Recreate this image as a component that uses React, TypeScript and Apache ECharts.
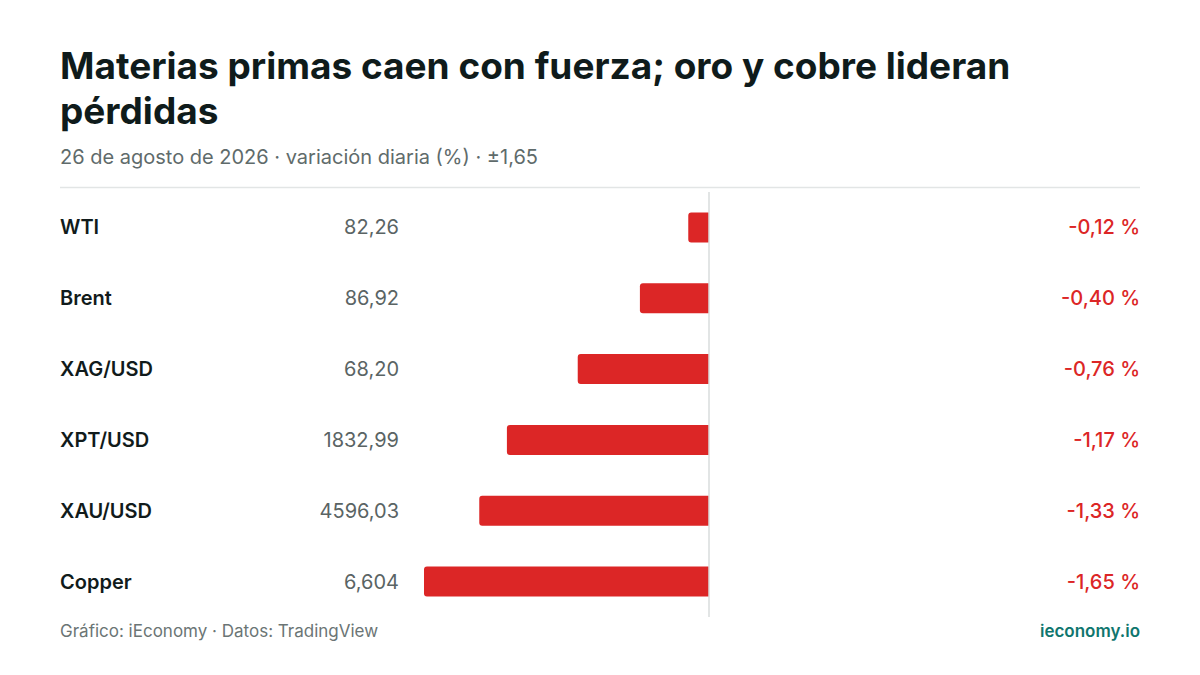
import { useEffect, useRef } from "react";
import * as echarts from "echarts";

const names = ["WTI", "Brent", "XAG/USD", "XPT/USD", "XAU/USD", "Copper"];
const prices = ["82,26", "86,92", "68,20", "1832,99", "4596,03", "6,604"];
const changes = [-0.12, -0.4, -0.76, -1.17, -1.33, -1.65];

const FONT = "Inter, 'Noto Sans', sans-serif";
const RED = "#dc2626";

const fmt = (v: number) => v.toFixed(2).replace(".", ",") + " %";

function App() {
  const chartRef = useRef<HTMLDivElement>(null);

  useEffect(() => {
    if (!chartRef.current) return;
    const chart = echarts.init(chartRef.current, undefined, { renderer: "svg" });

    const option: echarts.EChartsOption = {
      animation: false,
      backgroundColor: "#ffffff",
      textStyle: { fontFamily: FONT },
      title: [
        {
          text: "Materias primas caen con fuerza; oro y cobre lideran\npérdidas",
          left: 60,
          top: 43,
          padding: 0,
          textStyle: {
            fontFamily: FONT,
            fontSize: 37,
            fontWeight: 700,
            color: "#0f1b1b",
            lineHeight: 45,
          },
        },
        {
          text: "26 de agosto de 2026 · variación diaria (%) · ±1,65",
          left: 60,
          top: 147,
          padding: 0,
          textStyle: {
            fontFamily: FONT,
            fontSize: 20,
            fontWeight: 400,
            color: "#5f6b6b",
          },
        },
      ],
      graphic: [
        {
          type: "line",
          shape: { x1: 60, y1: 187.5, x2: 1140, y2: 187.5 },
          style: { stroke: "#e2e5e5", lineWidth: 1.5 },
        },
        {
          type: "text",
          left: 60,
          top: 622,
          style: {
            text: "Gráfico: iEconomy · Datos: TradingView",
            font: `400 17px ${FONT}`,
            fill: "#6b7575",
          },
        },
        {
          type: "text",
          right: 60,
          top: 622,
          style: {
            text: "ieconomy.io",
            font: `600 17px ${FONT}`,
            fill: "#0f766e",
          },
        },
      ],
      grid: { left: 424, right: 206, top: 192, bottom: 58 },
      xAxis: {
        type: "value",
        min: -1.65,
        max: 1.65,
        show: false,
      },
      yAxis: [
        {
          type: "category",
          data: names,
          inverse: true,
          position: "left",
          axisLine: { show: false, onZero: false },
          axisTick: { show: false },
          splitLine: { show: false },
          axisLabel: {
            margin: 25,
            formatter: (value: string, idx: number) =>
              `{n|${value}}{p|${prices[idx]}}`,
            rich: {
              n: {
                width: 220,
                align: "left",
                fontFamily: FONT,
                fontSize: 20,
                fontWeight: 600,
                color: "#111b1b",
              },
              p: {
                width: 119,
                align: "right",
                fontFamily: FONT,
                fontSize: 20,
                fontWeight: 400,
                color: "#5a6464",
              },
            },
          },
        },
        {
          type: "category",
          data: changes.map(fmt),
          inverse: true,
          position: "right",
          axisLine: { show: false, onZero: false },
          axisTick: { show: false },
          splitLine: { show: false },
          axisLabel: {
            margin: 146,
            align: "right",
            fontFamily: FONT,
            fontSize: 20,
            fontWeight: 500,
            color: RED,
          },
        },
      ],
      series: [
        {
          type: "bar",
          data: changes,
          barWidth: 30,
          itemStyle: { color: RED, borderRadius: [3, 0, 0, 3] },
          markLine: {
            silent: true,
            symbol: "none",
            label: { show: false },
            lineStyle: { color: "#d9dcdc", width: 1.5, type: "solid" },
            data: [{ xAxis: 0 }],
          },
        },
      ],
    };

    chart.setOption(option);
    return () => {
      chart.dispose();
    };
  }, []);

  return (
    <div
      ref={chartRef}
      style={{
        position: "fixed",
        top: 0,
        left: 0,
        width: 1200,
        height: 675,
        background: "#ffffff",
      }}
    />
  );
}

export default App;
